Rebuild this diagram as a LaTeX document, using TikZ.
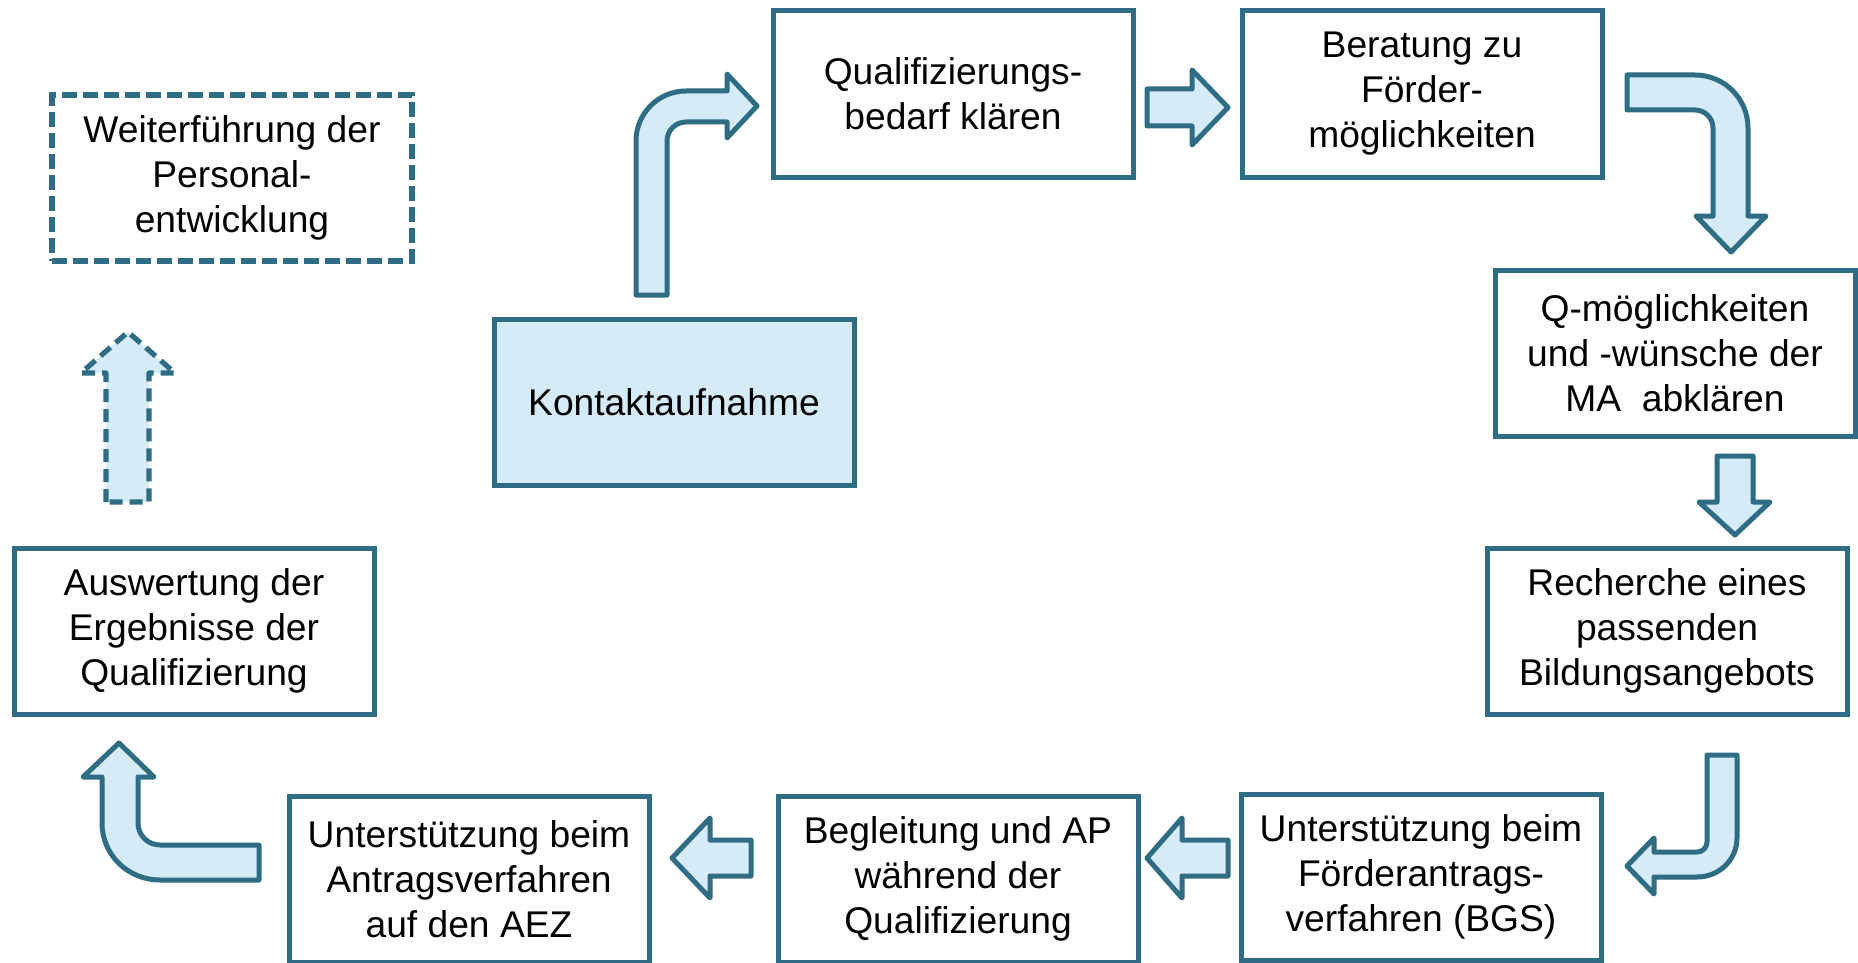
\documentclass[tikz,border=0pt]{standalone}
\usepackage{fontspec}
\setmainfont{Liberation Sans}
\definecolor{boxline}{RGB}{46,109,132}
\definecolor{boxfill}{RGB}{214,235,248}
\tikzset{
    stepbox/.style={rectangle, draw=boxline, line width=2.5pt, minimum width=180pt,
        minimum height=83pt, align=center, text=black, font=\fontsize{18.6}{22.5}\selectfont},
    blockarrow/.style={draw=boxline, fill=boxfill, line width=2.5pt, line join=round}
}

\begin{document}
\begin{tikzpicture}[x=0.5pt, y=-0.5pt]
        \useasboundingbox (0,0) rectangle (1858,963);
        \begin{scope}[every node/.style={stepbox}]
            \node (kontakt) [fill=boxfill] at (674, 402) {Kontaktaufnahme};
            \node (bedarf) at (953, 94) {Qualifizierungs-\\bedarf klären};
            \node (beratung) at (1422, 94) {Beratung zu\\Förder-\\möglichkeiten};
            \node (wuensche) at (1675, 353) {Q-möglichkeiten\\und -wünsche der\\MA\ \ abklären};
            \node (recherche) at (1667, 631) {Recherche eines\\passenden\\Bildungsangebots};
            \node (antrag) at (1421, 877) {Unterstützung beim\\Förderantrags-\\verfahren (BGS)};
            \node (begleitung) at (958, 879) {Begleitung und AP\\während der\\Qualifizierung};
            \node (aez) at (469, 879) {Unterstützung beim\\Antragsverfahren\\auf den AEZ};
            \node (auswertung) at (194, 631) {Auswertung der\\Ergebnisse der\\Qualifizierung};
            \node (weiter) [line width=2.6pt, dash pattern=on 7.5pt off 3pt] at (232, 178) {Weiterführung der\\Personal-\\entwicklung};
        \end{scope}

        \begin{scope}[every path/.style={blockarrow}]
            \draw (636,295) -- (636,141) .. controls (636,113.4) and (658.4,91) .. (686,91) -- (727,91) -- (727,74)
                -- (757,106) -- (727,138) -- (727,122) -- (686,122) .. controls (675.5,122) and (667,130.5) .. (667,141)
                -- (667,295) -- cycle;
            \draw (1147,89) -- (1192,89) -- (1192,70) -- (1228,107.5) -- (1192,145) -- (1192,126) -- (1147,126) -- cycle;
            \draw (1627,75) -- (1695,75) .. controls (1724.3,75) and (1748,98.7) .. (1748,128) -- (1748,216) -- (1766,216)
                -- (1731,252) -- (1696,216) -- (1713,216) -- (1713,128) .. controls (1713,118.1) and (1704.9,110) .. (1695,110)
                -- (1627,110) -- cycle;
            \draw (1717,456) -- (1753,456) -- (1753,502) -- (1770,502) -- (1735,535) -- (1699,502) -- (1717,502) -- cycle;
            \draw (1707,755) -- (1737,755) -- (1737,838) .. controls (1737,860) and (1719,877) .. (1697,877) -- (1654,877)
                -- (1654,894) -- (1627,866) -- (1654,838) -- (1654,852) -- (1697,852) .. controls (1702.5,852) and (1707,847.5) .. (1707,842)
                -- cycle;
            \draw (1228,840) -- (1182,840) -- (1182,818) -- (1147,858) -- (1182,898) -- (1182,876) -- (1228,876) -- cycle;
            \draw (751,840) -- (710,840) -- (710,818) -- (672,858) -- (710,898) -- (710,876) -- (751,876) -- cycle;
            \draw (259,845) -- (160,845) .. controls (147.8,845) and (138,835.2) .. (138,823) -- (138,777) -- (154,777)
                -- (119,743) -- (83,777) -- (102,777) -- (102,823) .. controls (102,855) and (128,880) .. (160,880)
                -- (259,880) -- cycle;
            \draw [line width=2.6pt, dash pattern=on 6.5pt off 3.5pt] (106,502) -- (106,373) -- (81,373) -- (128,332)
                -- (175,373) -- (149,373) -- (149,502) -- cycle;
        \end{scope}
    \end{tikzpicture}
\end{document}
